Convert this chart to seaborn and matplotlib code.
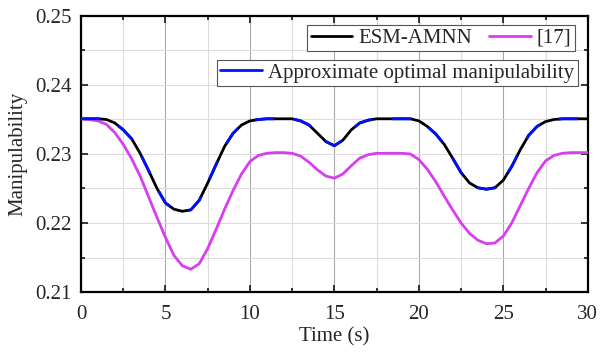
import numpy as np
import pandas as pd
import matplotlib
matplotlib.use("Agg")
import matplotlib.pyplot as plt
from matplotlib.lines import Line2D
from matplotlib.ticker import MultipleLocator
import seaborn as sns

# time axis, 0.5 s steps
time_s = np.arange(0, 30.01, 0.5)

# ESM-AMNN
esm_amnn = [
    0.2351, 0.2351, 0.2351, 0.2350, 0.2345, 0.2335, 0.2322, 0.2301, 0.2276, 0.2250,
    0.2229, 0.2220, 0.2217, 0.2219, 0.2233, 0.2258, 0.2285, 0.2311, 0.2330, 0.2342,
    0.2348, 0.2350, 0.2351, 0.2351, 0.2351, 0.2351, 0.2348, 0.2342, 0.2330, 0.2318,
    0.2312, 0.2320, 0.2335, 0.2345, 0.2349, 0.2351, 0.2351, 0.2351, 0.2351, 0.2351,
    0.2348, 0.2340, 0.2329, 0.2314, 0.2294, 0.2273, 0.2258, 0.2251, 0.2249, 0.2251,
    0.2262, 0.2282, 0.2306, 0.2327, 0.2340, 0.2347, 0.2350, 0.2351, 0.2351, 0.2351,
    0.2351,
]

# [17]
ref17 = [
    0.2351, 0.2350, 0.2348, 0.2343, 0.2331, 0.2314, 0.2293, 0.2268, 0.2238, 0.2208,
    0.2179, 0.2153, 0.2138, 0.2133, 0.2141, 0.2163, 0.2191, 0.2220, 0.2247, 0.2271,
    0.2289, 0.2298, 0.2301, 0.2302, 0.2302, 0.2301, 0.2297, 0.2288, 0.2277, 0.2268,
    0.2265, 0.2271, 0.2283, 0.2294, 0.2299, 0.2301, 0.2301, 0.2301, 0.2301, 0.2300,
    0.2292, 0.2278, 0.2260, 0.2239, 0.2219, 0.2200, 0.2185, 0.2175, 0.2170, 0.2171,
    0.2181, 0.2200, 0.2225, 0.2250, 0.2273, 0.2290, 0.2298, 0.2301, 0.2302, 0.2302,
    0.2302,
]

# approximate optimal manipulability sits right on top of the ESM-AMNN curve
approx_opt = list(esm_amnn)

df = pd.DataFrame({"t": time_s, "esm": esm_amnn, "ref": ref17, "opt": approx_opt})

sns.set_style("ticks")
plt.rcParams["font.family"] = ["Liberation Serif", "DejaVu Serif"]

fig = plt.figure(figsize=(6.01, 3.53), dpi=100)
ax = fig.add_axes([0.1348, 0.1728, 0.978 - 0.1348, 0.9547 - 0.1728])

sns.lineplot(data=df, x="t", y="esm", ax=ax, color="black", lw=2, zorder=3)
sns.lineplot(data=df, x="t", y="ref", ax=ax, color="#d93df0", lw=2, zorder=3)
sns.lineplot(data=df, x="t", y="opt", ax=ax, color="#0010ff", lw=2, zorder=4)
# blue dashes over the black curve
opt_line = ax.get_lines()[-1]
opt_line.set_linestyle((0, (7, 7)))
opt_line.set_dash_capstyle("butt")

ax.set_xlim(0, 30)
ax.xaxis.set_major_locator(MultipleLocator(5))
ax.xaxis.set_minor_locator(MultipleLocator(2.5))
yt = [0.21, 0.22, 0.23, 0.24, 0.25]
ax.set_yticks(yt)
ax.set_yticklabels([f"{v:.2f}" for v in yt])
ax.yaxis.set_minor_locator(MultipleLocator(0.005))
ax.set_ylim(0.21, 0.25)

ax.grid(True, which="major", axis="x", color="#a8a8a8", lw=0.8)
ax.grid(True, which="major", axis="y", color="#dcdcdc", lw=0.8)
ax.grid(True, which="minor", color="#dcdcdc", lw=0.8)
ax.set_axisbelow(True)

ax.tick_params(which="both", direction="in", top=True, right=True,
               labelsize=15, width=1.3)
ax.tick_params(which="major", length=5)
ax.tick_params(which="minor", length=3)
ax.tick_params(axis="x", pad=9)
ax.tick_params(axis="y", pad=7)
for s in ax.spines.values():
    s.set_linewidth(1.6)
    s.set_color("black")

ax.set_xlabel("Time (s)", fontsize=15, labelpad=3)
ax.set_ylabel("Manipulability", fontsize=15, labelpad=5)

h1 = [Line2D([], [], color="black", lw=2), Line2D([], [], color="#d93df0", lw=2)]
leg1 = ax.legend(h1, ["ESM-AMNN", "[17]"], ncol=2, loc="upper right",
                 bbox_to_anchor=(0.974, 0.967), fontsize=15, fancybox=False,
                 edgecolor="#555555", framealpha=1, borderpad=0.15,
                 handlelength=2.0, handletextpad=0.3, columnspacing=0.8,
                 borderaxespad=0)
leg1.get_frame().set_linewidth(0.8)
ax.add_artist(leg1)

h2 = [Line2D([], [], color="#0010ff", lw=2)]
leg2 = ax.legend(h2, ["Approximate optimal manipulability"], loc="upper right",
                 bbox_to_anchor=(0.98, 0.841), fontsize=15, fancybox=False,
                 edgecolor="#555555", framealpha=1, borderpad=0.15,
                 handlelength=2.0, handletextpad=0.3, borderaxespad=0)
leg2.get_frame().set_linewidth(0.8)

fig.savefig("out.png", dpi=100)
